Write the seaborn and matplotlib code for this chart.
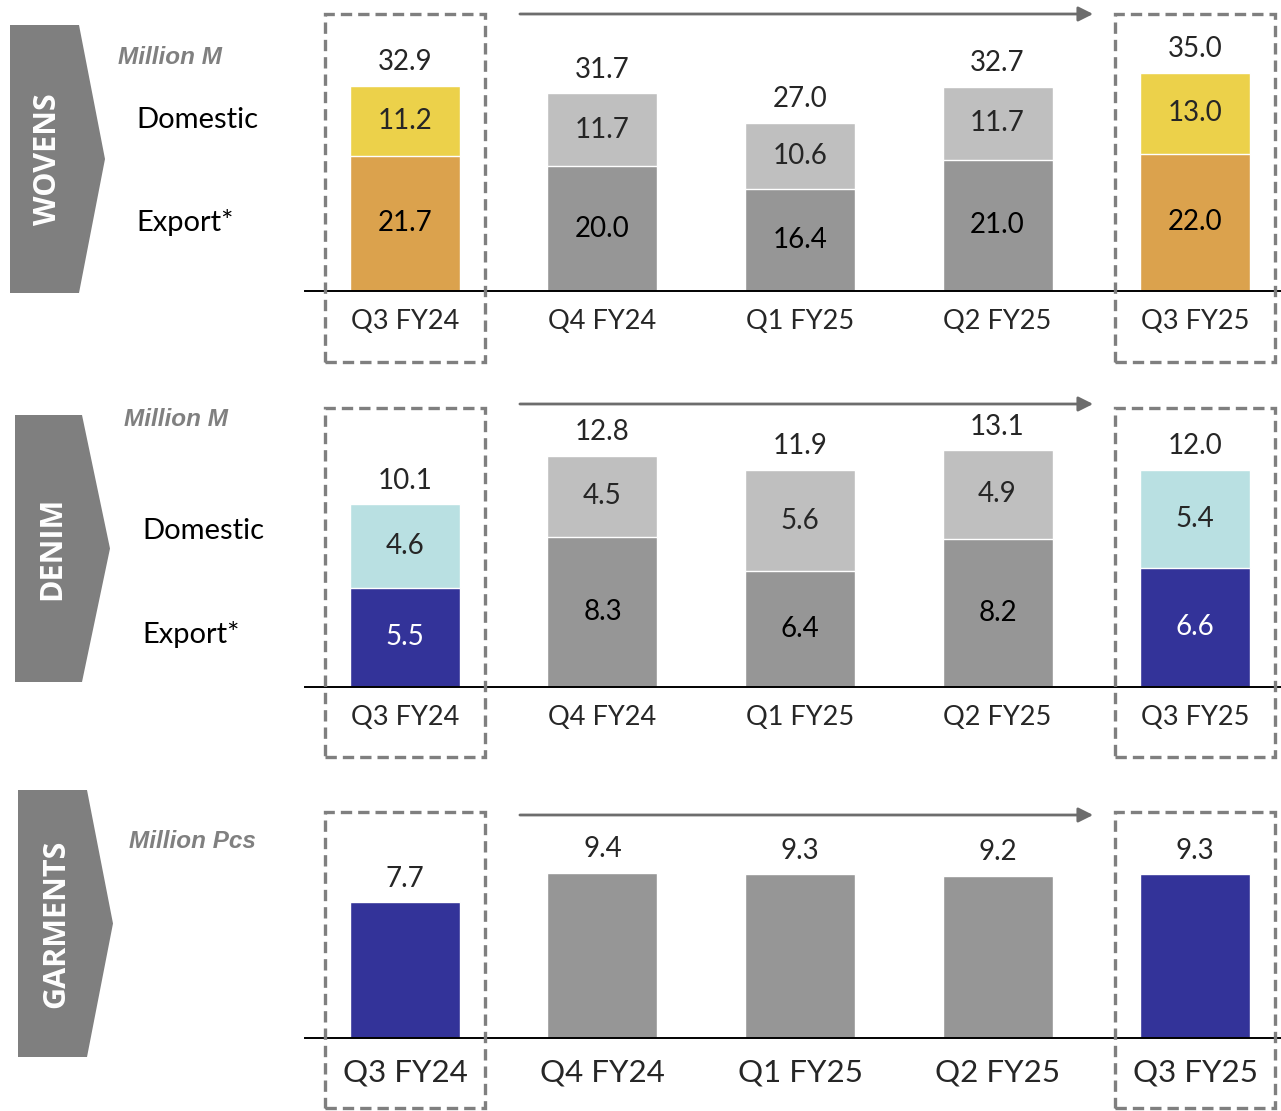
import matplotlib
matplotlib.use("Agg")
import matplotlib.pyplot as plt
from matplotlib.patches import Polygon, Rectangle
import seaborn as sns
import pandas as pd

# Data
quarters = ["Q3 FY24", "Q4 FY24", "Q1 FY25", "Q2 FY25", "Q3 FY25"]
wovens_dom = [11.2, 11.7, 10.6, 11.7, 13.0]
wovens_exp = [21.7, 20.0, 16.4, 21.0, 22.0]
wovens_tot = [32.9, 31.7, 27.0, 32.7, 35.0]
denim_dom = [4.6, 4.5, 5.6, 4.9, 5.4]
denim_exp = [5.5, 8.3, 6.4, 8.2, 6.6]
denim_tot = [10.1, 12.8, 11.9, 13.1, 12.0]
garments = [7.7, 9.4, 9.3, 9.2, 9.3]

GREY_L = "#BFBFBF"
GREY_D = "#969696"
NAVY = "#333399"
wov_dom_c = ["#ECD14A", GREY_L, GREY_L, GREY_L, "#ECD14A"]
wov_exp_c = ["#DBA24D", GREY_D, GREY_D, GREY_D, "#DBA24D"]
den_dom_c = ["#B9E0E2", GREY_L, GREY_L, GREY_L, "#B9E0E2"]
den_exp_c = [NAVY, GREY_D, GREY_D, GREY_D, NAVY]
gar_c = [NAVY, GREY_D, GREY_D, GREY_D, NAVY]

sns.set_style("white")
plt.rcParams["font.family"] = ["Lato", "DejaVu Sans"]

W, H = 1281, 1111
fig = plt.figure(figsize=(W / 100, H / 100), dpi=100)

# overlay for chevrons and side texts (pixel coords)
ov = fig.add_axes([0, 0, 1, 1])
ov.set_xlim(0, W)
ov.set_ylim(H, 0)
ov.axis("off")


def chevron(x0, x1, tip, y0, y1, label):
    ym = (y0 + y1) / 2
    ov.add_patch(Polygon([(x0, y0), (x1, y0), (tip, ym), (x1, y1), (x0, y1)],
                         closed=True, color="#7F7F7F", lw=0))
    ov.text((x0 + x1) / 2 + 4, ym, label, rotation=90, color="white",
            fontsize=22, fontweight="bold", ha="center", va="center",
            family=["Open Sans", "DejaVu Sans"])


chevron(10, 79, 105, 25, 293, "WOVENS")
chevron(15, 82, 110, 415, 682, "DENIM")
chevron(18, 87, 113, 790, 1057, "GARMENTS")

unit_kw = dict(color="#808080", fontsize=17.5, fontweight="bold", style="italic",
               family=["Liberation Sans", "DejaVu Sans"], va="center")
ov.text(118, 58, "Million M", **unit_kw)
ov.text(124, 419, "Million M", **unit_kw)
ov.text(129, 842, "Million Pcs", **unit_kw)
side_kw = dict(color="black", fontsize=21, va="center")
ov.text(136, 120, "Domestic", **side_kw)
ov.text(136, 223, "Export*", **side_kw)
ov.text(142, 531, "Domestic", **side_kw)
ov.text(142, 634, "Export*", **side_kw)

X0, X1 = 305, 1281
XLIM = (-0.506, 4.435)
BAR_W = 0.557
VAL_FS = 20


def panel(top, base, box_bot, ymax, arrow_y, tick_size, tick_pad):
    ax = fig.add_axes([X0 / W, 1 - base / H, (X1 - X0) / W, (base - top) / H])
    ax.set_xlim(*XLIM)
    ax.set_ylim(0, ymax)
    for s in ["top", "left", "right"]:
        ax.spines[s].set_visible(False)
    ax.spines["bottom"].set_color("black")
    ax.spines["bottom"].set_linewidth(1.4)
    ax.set_yticks([])
    ax.tick_params(axis="x", length=0, pad=tick_pad, labelsize=tick_size)
    tr = ax.get_xaxis_transform()
    fb = -(box_bot - base) / (base - top)
    for c in [0, 4]:
        ax.add_patch(Rectangle((c - 0.405, fb), 0.81, 1 - fb, transform=tr,
                               fill=False, ec="#7F7F7F", lw=2.4,
                               ls=(0, (3.4, 1.8)), clip_on=False, zorder=5))
    ay = 1 + (top - arrow_y) / (base - top)
    ax.annotate("", xy=(3.484, ay), xytext=(0.582, ay), xycoords=tr,
                arrowprops=dict(arrowstyle="-|>", color="#6D6D6D", lw=2,
                                mutation_scale=22, shrinkA=0, shrinkB=0),
                annotation_clip=False)
    return ax


def finish(ax):
    ax.set_xlabel("")
    ax.set_ylabel("")
    ax.set_xticks(range(len(quarters)))
    ax.set_xticklabels(quarters)
    ax.set_xlim(*XLIM)


def stacked(ax, dom, exp, tot, dom_c, exp_c, exp_txt):
    df = pd.DataFrame({"q": quarters, "dom": dom, "exp": exp, "tot": tot})
    df["stack"] = df["dom"] + df["exp"]
    sns.barplot(data=df, x="q", y="stack", hue="q", palette=dict(zip(quarters, dom_c)),
                width=BAR_W, saturation=1, legend=False, ax=ax)
    sns.barplot(data=df, x="q", y="exp", hue="q", palette=dict(zip(quarters, exp_c)),
                width=BAR_W, saturation=1, legend=False, ax=ax)
    for i, r in df.iterrows():
        ax.annotate(f"{r['tot']:.1f}", (i, r["stack"]), xytext=(0, 17),
                    textcoords="offset points", ha="center", va="center", fontsize=VAL_FS)
        ax.text(i, r["exp"] + r["dom"] / 2, f"{r['dom']:.1f}", ha="center",
                va="center", fontsize=VAL_FS)
        ax.text(i, r["exp"] / 2, f"{r['exp']:.1f}", ha="center", va="center",
                fontsize=VAL_FS, color=exp_txt[i])
    finish(ax)


ax1 = panel(14, 291, 362, 277 / 6.24, 14, 19.5, 13)
stacked(ax1, wovens_dom, wovens_exp, wovens_tot, wov_dom_c, wov_exp_c, ["black"] * 5)

ax2 = panel(408, 687, 757, 279 / 18.08, 404, 19.5, 13)
stacked(ax2, denim_dom, denim_exp, denim_tot, den_dom_c, den_exp_c,
        ["white", "black", "black", "black", "white"])

ax3 = panel(812, 1038, 1108, 226 / 17.6, 815, 22.5, 15)
gdf = pd.DataFrame({"q": quarters, "v": garments})
sns.barplot(data=gdf, x="q", y="v", hue="q", palette=dict(zip(quarters, gar_c)),
            width=BAR_W, saturation=1, legend=False, ax=ax3)
for i, v in enumerate(garments):
    ax3.annotate(f"{v:.1f}", (i, v), xytext=(0, 17), textcoords="offset points",
                 ha="center", va="center", fontsize=VAL_FS)
finish(ax3)

fig.savefig("out.png", dpi=100)
